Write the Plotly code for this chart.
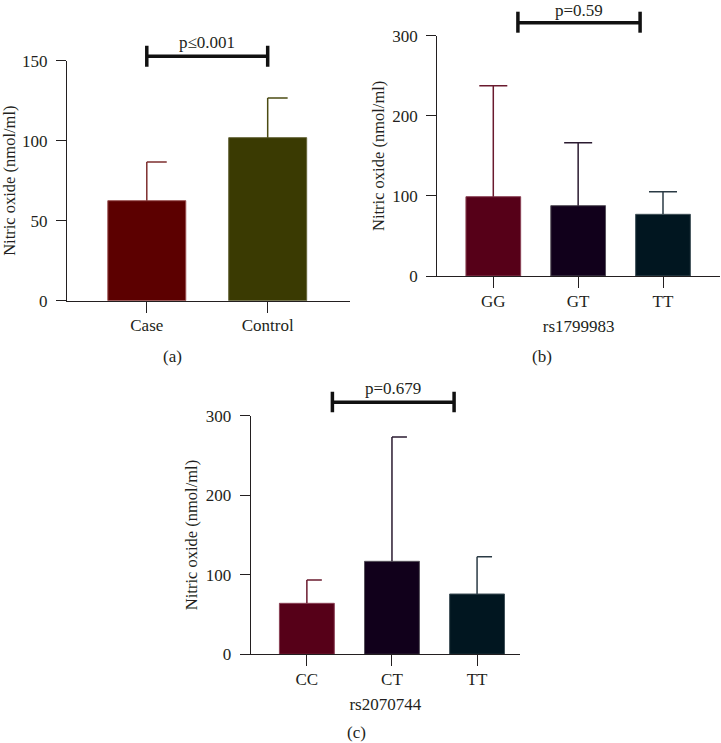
import plotly.graph_objects as go

W, H = 721, 743

# ---------------- data ----------------
a_groups = ["Case", "Control"]
a_means = [62.5, 101.9]
a_sd = [24.2, 24.8]
a_p = "p≤0.001"

b_groups = ["GG", "GT", "TT"]
b_means = [99.0, 87.8, 77.0]
b_sd = [138.6, 78.6, 28.2]
b_xtitle = "rs1799983"
b_p = "p=0.59"

c_groups = ["CC", "CT", "TT"]
c_means = [64.1, 116.9, 75.8]
c_sd = [29.3, 156.2, 46.9]
c_xtitle = "rs2070744"
c_p = "p=0.679"

y_title = "Nitric oxide (nmol/ml)"
panel_labels = ["(a)", "(b)", "(c)"]

# ---------------- styles ----------------
FONT = "Liberation Serif, Times New Roman, serif"
FS = 17
FS_T = 16.5
TXT = "#231f20"
a_fill = ["#5c0000", "#3a3a02"]
a_edge = ["#9a5050", "#66663a"]
a_err = ["#7d2e2e", "#4b4b12"]
g_fill = ["#560018", "#11001b", "#011620"]
g_edge = ["#8a4055", "#55505a", "#405058"]
g_err = ["#6a1a2e", "#2a1a30", "#2a3a44"]


def fx(px):
    return px / W


def fy(py):
    return 1 - py / H


panels = [
    dict(groups=a_groups, means=a_means, sd=a_sd, p=a_p, xtitle=None,
         fill=a_fill, edge=a_edge, err=a_err, spacing=120.9,
         left=67, right=350, y0=300.7, ytop=60.7, ymax=150, dtick=50,
         ovtop=25, cap=(0.0, 0.165), br=(0, 1), br_px=(45.7, 56.2, 66.7),
         label_xy=(172, 357), pshift=-7),
    dict(groups=b_groups, means=b_means, sd=b_sd, p=b_p, xtitle=b_xtitle,
         fill=g_fill, edge=g_edge, err=g_err, spacing=84.85,
         left=437.3, right=720, y0=276, ytop=35.7, ymax=300, dtick=100,
         ovtop=0, cap=(-0.165, 0.165), br=(0.29, 1.73), br_px=(11.7, 22.7, 32.7),
         label_xy=(541.7, 356.7), pshift=-9.5),
    dict(groups=c_groups, means=c_means, sd=c_sd, p=c_p, xtitle=c_xtitle,
         fill=g_fill, edge=g_edge, err=g_err, spacing=85.1,
         left=250.7, right=520, y0=654.3, ytop=415.7, ymax=300, dtick=100,
         ovtop=372, cap=(0.0, 0.176), br=(0.30, 1.73), br_px=(391.7, 402.3, 412.3),
         label_xy=(356.7, 732), pshift=-7),
]

fig = go.Figure()
layout = dict(
    template="none",
    width=W, height=H, margin=dict(l=0, r=0, t=0, b=0, pad=0, autoexpand=False),
    paper_bgcolor="white", plot_bgcolor="rgba(0,0,0,0)",
    showlegend=False, font=dict(family=FONT, size=FS, color=TXT),
    annotations=[],
)

BAR_W = 0.645
for i, P in enumerate(panels):
    k = i + 1
    ko = i + 4
    n = len(P["groups"])
    xs = list(range(n))
    x_lo = -0.66
    x_hi = x_lo + (P["right"] - P["left"]) / P["spacing"]
    xa = "x" if k == 1 else f"x{k}"
    ya = "y" if k == 1 else f"y{k}"
    xo = f"x{ko}"
    yo = f"y{ko}"

    fig.add_trace(go.Bar(
        x=xs, y=P["means"], width=BAR_W,
        marker=dict(color=P["fill"], line=dict(color=P["edge"], width=1)),
        xaxis=xa, yaxis=ya, hoverinfo="skip",
    ))
    # error bars (upper only, GraphPad style)
    for j in range(n):
        top = P["means"][j] + P["sd"][j]
        fig.add_trace(go.Scatter(
            x=[j, j, None, j + P["cap"][0], j + P["cap"][1]],
            y=[P["means"][j], top, None, top, top],
            mode="lines", line=dict(color=P["err"][j], width=1.5),
            xaxis=xa, yaxis=ya, hoverinfo="skip", cliponaxis=False,
        ))

    # overlay axis for significance bracket
    ov_max = P["ymax"] * (P["y0"] - P["ovtop"]) / (P["y0"] - P["ytop"])
    to_val = lambda py, P=P: P["ymax"] * (P["y0"] - py) / (P["y0"] - P["ytop"])
    b_top, b_mid, b_bot = [to_val(v) for v in P["br_px"]]
    x0, x1 = P["br"]
    fig.add_trace(go.Scatter(
        x=[x0, x0, None, x0, x1, None, x1, x1],
        y=[b_bot, b_top, None, b_mid, b_mid, None, b_bot, b_top],
        mode="lines", line=dict(color="#111111", width=3.5),
        xaxis=xo, yaxis=yo, hoverinfo="skip",
    ))

    xkey = "xaxis" if k == 1 else f"xaxis{k}"
    ykey = "yaxis" if k == 1 else f"yaxis{k}"
    layout[xkey] = dict(
        domain=[fx(P["left"]), fx(P["right"])], anchor=ya, automargin=False,
        range=[x_lo, x_hi], tickvals=xs, ticktext=P["groups"],
        ticks="outside", ticklen=11, tickwidth=1.3, tickcolor=TXT,
        ticklabelstandoff=-2,
        showline=True, linecolor=TXT, linewidth=1.3,
        showgrid=False, zeroline=False, fixedrange=True,
        tickfont=dict(family=FONT, size=FS, color=TXT),
        title=dict(text=P["xtitle"] or "", standoff=10,
                   font=dict(family=FONT, size=FS, color=TXT)),
    )
    layout[ykey] = dict(
        domain=[fy(P["y0"]), fy(P["ytop"])], anchor=xa, automargin=False,
        range=[0, P["ymax"]], dtick=P["dtick"], tick0=0,
        ticks="outside", ticklen=10, tickwidth=1.3, tickcolor=TXT,
        ticklabelstandoff=5,
        showline=True, linecolor=TXT, linewidth=1.3,
        showgrid=False, zeroline=False, fixedrange=True,
        tickfont=dict(family=FONT, size=FS, color=TXT),
        title=dict(text=y_title, standoff=3,
                   font=dict(family=FONT, size=FS_T, color=TXT)),
    )
    layout[f"xaxis{ko}"] = dict(
        domain=[fx(P["left"]), fx(P["right"])], anchor=yo, automargin=False,
        range=[x_lo, x_hi], visible=False, fixedrange=True,
    )
    layout[f"yaxis{ko}"] = dict(
        domain=[fy(P["y0"]), fy(P["ovtop"])], anchor=xo, automargin=False,
        range=[0, ov_max], visible=False, fixedrange=True,
    )
    # p-value text above bracket
    layout["annotations"].append(dict(
        x=(x0 + x1) / 2, y=b_top, xref=xo, yref=yo,
        text=P["p"], showarrow=False, yanchor="bottom", xanchor="center",
        yshift=P["pshift"], borderpad=0,
        font=dict(family=FONT, size=FS, color=TXT),
    ))
    # panel label
    lx, ly = P["label_xy"]
    layout["annotations"].append(dict(
        x=fx(lx), y=fy(ly), xref="paper", yref="paper",
        text=panel_labels[i], showarrow=False,
        xanchor="center", yanchor="middle",
        font=dict(family=FONT, size=FS, color=TXT),
    ))

fig.update_layout(**layout)
fig.write_html("out.html")
